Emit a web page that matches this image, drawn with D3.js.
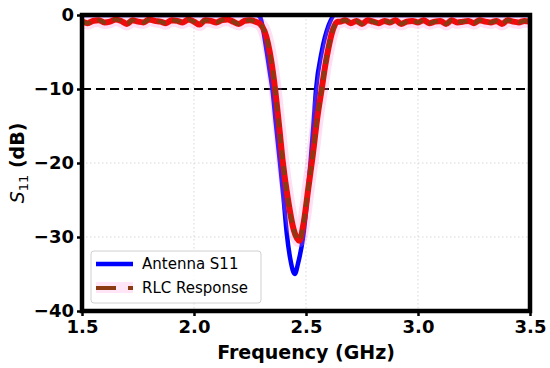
<!DOCTYPE html>
<html>
<head>
<meta charset="utf-8">
<script src="https://cdn.jsdelivr.net/npm/d3@7"></script>
<style>
  html, body { margin: 0; padding: 0; background: #fff; }
  svg { display: block; font-family: "DejaVu Sans", sans-serif; }
</style>
</head>
<body>
<svg id="chart" width="550" height="368"></svg>
<script>
/* data */
const antennaFreq = [1.50, 2.00, 2.28, 2.295, 2.31, 2.325, 2.34, 2.35, 2.365, 2.384, 2.40, 2.414, 2.43, 2.45,
                     2.465, 2.487, 2.505, 2.52, 2.533, 2.545, 2.57, 2.60, 2.63, 3.00, 3.50];
const antennaS11  = [0, 0, 0, -0.3, -2.2, -5, -8, -10, -14.5, -20, -24.8, -29.5, -33, -35,
                     -33.5, -30, -25, -20, -15, -10, -5, -1.5, 0, 0, 0];

const rlcFreq = [1.500, 1.525, 1.550, 1.575, 1.600, 1.625, 1.650, 1.675, 1.700, 1.725, 1.750, 1.775,
                 1.800, 1.825, 1.850, 1.875, 1.900, 1.925, 1.950, 1.975, 2.000, 2.025, 2.050, 2.075,
                 2.100, 2.125, 2.150, 2.175, 2.200, 2.225, 2.250, 2.275,
                 2.295, 2.315, 2.330, 2.345, 2.362, 2.380, 2.397, 2.420, 2.445, 2.470, 2.490, 2.510,
                 2.530, 2.550, 2.570, 2.585, 2.600, 2.620, 2.640,
                 2.650, 2.675, 2.700, 2.725, 2.750, 2.775, 2.800, 2.825, 2.850, 2.875, 2.900, 2.925,
                 2.950, 2.975, 3.000, 3.025, 3.050, 3.075, 3.100, 3.125, 3.150, 3.175, 3.200, 3.225,
                 3.250, 3.275, 3.300, 3.325, 3.350, 3.375, 3.400, 3.425, 3.450, 3.475, 3.500];
const rlcS11  = [-0.9, -1.1, -0.8, -0.7, -1.0, -0.9, -0.6, -0.8, -1.2, -0.7, -0.9, -1.0,
                 -0.6, -0.8, -0.9, -1.1, -0.7, -0.8, -1.0, -0.6, -0.9, -1.3, -0.7, -0.8,
                 -1.0, -0.7, -0.6, -0.9, -1.2, -0.8, -0.7, -0.9,
                 -1.2, -2.2, -3.8, -6.2, -10, -15, -20, -25, -29, -30.5, -28, -23.5,
                 -19, -14, -10, -7, -4.5, -2, -0.9,
                 -0.9, -0.7, -1.1, -0.8, -1.2, -0.7, -0.9, -1.1, -0.8, -1.0, -0.7, -1.2,
                 -0.9, -0.8, -1.0, -0.7, -1.1, -0.9, -0.8, -1.2, -0.7, -1.0, -0.9, -0.8,
                 -1.1, -0.7, -0.9, -1.0, -0.8, -1.2, -0.7, -0.9, -1.0, -0.8, -0.9];

const xTicks = [1.5, 2.0, 2.5, 3.0, 3.5];
const yTicks = [0, -10, -20, -30, -40];
const threshold = -10;
const seriesNames = ['Antenna S11', 'RLC Response'];

/* layout */
const W = 550, H = 368;
const m = { left: 82, right: 20, top: 15, bottom: 57 };
const svg = d3.select('#chart');

const x = d3.scaleLinear().domain([1.5, 3.5]).range([m.left, W - m.right]);
const y = d3.scaleLinear().domain([-40, 0]).range([H - m.bottom, m.top]);

svg.append('defs').append('clipPath').attr('id', 'clip')
  .append('rect')
  .attr('x', m.left).attr('y', m.top)
  .attr('width', x(3.5) - x(1.5)).attr('height', y(-40) - y(0));

// grid
const grid = svg.append('g');
xTicks.slice(1, -1).forEach(t => {
  grid.append('line')
    .attr('x1', x(t)).attr('x2', x(t)).attr('y1', y(0)).attr('y2', y(-40))
    .attr('stroke', '#d8d8d8').attr('stroke-width', 1).attr('stroke-dasharray', '1.5,2.5');
});
yTicks.slice(1, -1).forEach(t => {
  grid.append('line')
    .attr('x1', x(1.5)).attr('x2', x(3.5)).attr('y1', y(t)).attr('y2', y(t))
    .attr('stroke', '#d8d8d8').attr('stroke-width', 1).attr('stroke-dasharray', '1.5,2.5');
});

// -10 dB line
svg.append('line')
  .attr('x1', x(1.5)).attr('x2', x(3.5)).attr('y1', y(threshold)).attr('y2', y(threshold))
  .attr('stroke', '#000').attr('stroke-width', 2).attr('stroke-dasharray', '9,5');

const plot = svg.append('g').attr('clip-path', 'url(#clip)');

const antenna = antennaFreq.map((f, i) => [f, antennaS11[i]]);
const rlc = rlcFreq.map((f, i) => [f, rlcS11[i]]);

const line = d3.line()
  .x(d => x(d[0])).y(d => y(d[1]))
  .curve(d3.curveMonotoneX);

plot.append('path').datum(antenna).attr('d', line)
  .attr('fill', 'none').attr('stroke', '#0000ff').attr('stroke-width', 4.5);

plot.append('path').datum(rlc).attr('d', line)
  .attr('fill', 'none').attr('stroke', '#ff7fd0').attr('stroke-opacity', 0.25).attr('stroke-width', 13);

plot.append('path').datum(rlc).attr('d', line)
  .attr('fill', 'none').attr('stroke', '#ee0c0c').attr('stroke-width', 6);

plot.append('path').datum(rlc).attr('d', line)
  .attr('fill', 'none').attr('stroke', '#8b3a12').attr('stroke-width', 4)
  .attr('stroke-dasharray', '9,7');

// axes
const xAxis = svg.append('g').attr('transform', `translate(0,${y(-40)})`)
  .call(d3.axisBottom(x).tickValues(xTicks).tickFormat(d3.format('.1f')).tickSize(5).tickPadding(4));
const yAxis = svg.append('g').attr('transform', `translate(${x(1.5)},0)`)
  .call(d3.axisLeft(y).tickValues(yTicks).tickFormat(d => d < 0 ? '\u2212' + Math.abs(d) : d).tickSize(5).tickPadding(3));

[xAxis, yAxis].forEach(a => {
  a.select('.domain').remove();
  a.selectAll('.tick line').attr('stroke', '#000').attr('stroke-width', 2.5);
  a.selectAll('.tick text')
    .attr('fill', '#000').attr('font-size', 18).attr('font-weight', 'bold')
    .attr('font-family', '"DejaVu Sans", sans-serif');
});

// frame
svg.append('rect')
  .attr('x', x(1.5)).attr('y', y(0))
  .attr('width', x(3.5) - x(1.5)).attr('height', y(-40) - y(0))
  .attr('fill', 'none').attr('stroke', '#000').attr('stroke-width', 4.5);

// axis labels
svg.append('text')
  .attr('x', (x(1.5) + x(3.5)) / 2).attr('y', 359)
  .attr('text-anchor', 'middle')
  .attr('font-size', 19).attr('font-weight', 'bold')
  .text('Frequency (GHz)');

const yl = svg.append('text')
  .attr('transform', `translate(24,${(y(0) + y(-40)) / 2}) rotate(-90)`)
  .attr('text-anchor', 'middle')
  .attr('font-size', 19);
yl.append('tspan').attr('font-style', 'italic').text('S');
yl.append('tspan').attr('font-size', 13).attr('dy', 4).text('11');
yl.append('tspan').attr('font-weight', 'bold').attr('dy', -4).text(' (dB)');

// legend
const lg = svg.append('g').attr('transform', 'translate(91,251)');
lg.append('rect')
  .attr('width', 170).attr('height', 52).attr('rx', 3)
  .attr('fill', '#fff').attr('fill-opacity', 0.85)
  .attr('stroke', '#d0d0d0').attr('stroke-width', 1);
lg.append('line').attr('x1', 5).attr('x2', 42).attr('y1', 13).attr('y2', 13)
  .attr('stroke', '#0000ff').attr('stroke-width', 4.5);
lg.append('rect').attr('x', 5).attr('y', 31).attr('width', 37).attr('height', 11)
  .attr('fill', '#ff7fd0').attr('fill-opacity', 0.2);
lg.append('line').attr('x1', 5).attr('x2', 42).attr('y1', 37).attr('y2', 37)
  .attr('stroke', '#8b3a12').attr('stroke-width', 4).attr('stroke-dasharray', '20,12');
seriesNames.forEach((n, i) => {
  lg.append('text').attr('x', 51).attr('y', 13 + i * 24).attr('dy', '0.35em')
    .attr('font-size', 15).attr('fill', '#000').text(n);
});
</script>
</body>
</html>
